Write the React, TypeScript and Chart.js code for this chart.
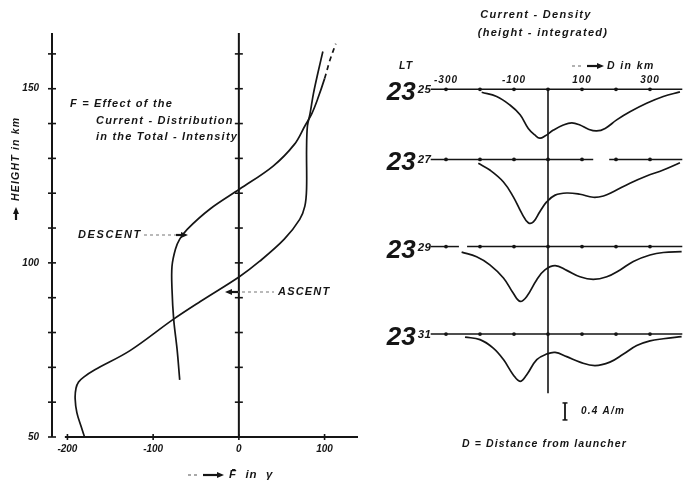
import React, { useEffect, useRef } from "react";
import { Chart, registerables } from "chart.js";

Chart.register(...registerables);

const W = 689;
const H = 484;
const INK = "#151515";
const FAMILY = '"Liberation Sans", "DejaVu Sans", Arial, sans-serif';

// ---------- Left chart: effect F (gamma) vs height (km) ----------
const F_MIN = -218;
const F_MAX = 139;
const H_MIN = 50;
const H_MAX = 166;
const F_TICKS = [-200, -100, 0, 100];
const H_LABEL_TICKS = [50, 100, 150];
const H_MINOR_TICKS = [50, 60, 70, 80, 90, 100, 110, 120, 130, 140, 150, 160];

const ASCENT_F = [-180, -184, -189, -191, -190, -187, -181, -168, -127, -77, -45, 1, 24, 53, 71, 77, 79, 79, 80, 83, 87, 92, 98];
const ASCENT_H = [50, 53, 57, 61, 64, 65.8, 67.2, 69.3, 74.8, 83.7, 88.9, 96.1, 100.4, 106.8, 112.5, 116.3, 121.2, 132.7, 139.3, 142.8, 148.6, 154.3, 160.7];

const DESCENT_F = [-69, -72, -76, -78, -78, -74, -69, -60, -34, 1, 40, 65, 77, 85, 92, 100, 106, 113];
const DESCENT_H = [66.4, 75, 83.7, 92.4, 99, 103.9, 106.8, 109.7, 115.4, 121.2, 127.8, 134.1, 139.3, 142.8, 147.1, 152.9, 158, 162.9];
const DESCENT_DASH_FROM = 15;

// ---------- Right chart: height-integrated current density ----------
const D_MIN = -345;
const D_MAX = 395;
const J_MIN = -8;
const J_MAX = 0.5;
const D_TICKS = [-300, -200, -100, 0, 100, 200, 300];
const D_LABEL_TICKS = [-300, -100, 100, 300];
const PANEL_HOUR = "23";
const PANEL_MINUTES = ["25", "27", "29", "31"];
const PANEL_OFFSETS = [0, -1.65, -3.7, -5.76];
const BASELINE_GAPS = [[], [[133, 180]], [[-262, -238]], []];
const ZERO_LINE_END = -7.15;
const SCALE_BAR_D = 50;
const SCALE_BAR_TOP = -7.38;
const SCALE_BAR_LEN = 0.4;

const J25_D = [-195, -151, -112, -82, -58, -38, -24, -9, 16, 45, 70, 94, 119, 143, 168, 202, 241, 290, 339, 388];
const J25_V = [-0.07, -0.17, -0.37, -0.6, -0.92, -1.08, -1.15, -1.1, -0.96, -0.84, -0.79, -0.84, -0.94, -0.98, -0.92, -0.72, -0.53, -0.33, -0.17, -0.06];

const J27_D = [-205, -171, -131, -102, -77, -58, -43, -24, -4, 21, 55, 94, 133, 163, 192, 241, 290, 339, 388];
const J27_V = [-0.09, -0.25, -0.53, -0.88, -1.27, -1.49, -1.47, -1.23, -1.0, -0.84, -0.79, -0.82, -0.89, -0.86, -0.76, -0.56, -0.39, -0.25, -0.08];

const J29_D = [-254, -210, -171, -131, -102, -82, -63, -33, -9, 21, 55, 94, 133, 173, 212, 251, 300, 339, 393];
const J29_V = [-0.13, -0.24, -0.43, -0.74, -1.1, -1.29, -1.18, -0.78, -0.55, -0.45, -0.56, -0.71, -0.77, -0.71, -0.55, -0.35, -0.2, -0.14, -0.12];

const J31_D = [-244, -200, -161, -131, -102, -82, -63, -33, -4, 21, 55, 94, 138, 182, 222, 261, 300, 339, 393];
const J31_V = [-0.07, -0.13, -0.33, -0.6, -0.96, -1.11, -0.96, -0.6, -0.47, -0.43, -0.53, -0.66, -0.74, -0.66, -0.47, -0.27, -0.16, -0.11, -0.06];

const PANELS_D = [J25_D, J27_D, J29_D, J31_D];
const PANELS_V = [J25_V, J27_V, J29_V, J31_V];

// ---------- helpers ----------
const font = (size: number, weight = "bold") => `italic ${weight} ${size}px ${FAMILY}`;

function txt(ctx: any, s: string, x: number, y: number, size = 11, align = "left", spacing = 1.2, base = "middle") {
  ctx.font = font(size);
  ctx.letterSpacing = spacing + "px";
  ctx.textAlign = align;
  ctx.textBaseline = base;
  ctx.fillStyle = INK;
  ctx.fillText(s, x, y);
  ctx.letterSpacing = "0px";
}

function seg(ctx: any, x1: number, y1: number, x2: number, y2: number, w = 1.5, dash: number[] = []) {
  ctx.lineWidth = w;
  ctx.setLineDash(dash);
  ctx.beginPath();
  ctx.moveTo(x1, y1);
  ctx.lineTo(x2, y2);
  ctx.stroke();
  ctx.setLineDash([]);
}

// horizontal arrow; tip at xTip, pointing in direction dir (+1 right, -1 left)
function arrow(ctx: any, xTail: number, xTip: number, y: number, dir: number) {
  seg(ctx, xTail, y, xTip - dir * 5, y, 2.2);
  ctx.beginPath();
  ctx.moveTo(xTip, y);
  ctx.lineTo(xTip - dir * 7, y - 3);
  ctx.lineTo(xTip - dir * 7, y + 3);
  ctx.closePath();
  ctx.fill();
}

const leftDecor = {
  id: "leftDecor",
  beforeDatasetsDraw(chart: any) {
    const { ctx, chartArea: a, scales } = chart;
    const x = scales.x;
    const y = scales.y;
    ctx.save();
    ctx.strokeStyle = INK;
    ctx.fillStyle = INK;
    const yBottom = y.getPixelForValue(H_MIN);
    const yTop = y.getPixelForValue(H_MAX);
    // left axis
    seg(ctx, a.left, yBottom, a.left, yTop, 2);
    // bottom axis
    seg(ctx, x.getPixelForValue(-203), yBottom, a.right, yBottom, 2);
    // zero line
    const x0 = x.getPixelForValue(0);
    seg(ctx, x0, yBottom, x0, yTop, 2);
    H_MINOR_TICKS.forEach((h) => {
      const py = y.getPixelForValue(h);
      seg(ctx, a.left - 4, py, a.left + 4, py, 1.6);
      seg(ctx, x0 - 4, py, x0 + 4, py, 1.6);
    });
    F_TICKS.forEach((f) => {
      const px = x.getPixelForValue(f);
      seg(ctx, px, yBottom - 3, px, yBottom + 3, 1.6);
    });
    ctx.restore();
  },
  afterDraw(chart: any) {
    const { ctx } = chart;
    ctx.save();
    ctx.strokeStyle = INK;
    ctx.fillStyle = INK;
    txt(ctx, "F = Effect of the", 70, 104, 11);
    txt(ctx, "Current - Distribution", 96, 121, 11);
    txt(ctx, "in the Total - Intensity", 96, 137, 11);
    // DESCENT label + arrow
    txt(ctx, "DESCENT", 78, 235, 11, "left", 1.6);
    ctx.strokeStyle = "#777";
    seg(ctx, 144, 235, 176, 235, 1, [3, 3]);
    ctx.strokeStyle = INK;
    arrow(ctx, 176, 188, 235, 1);
    // ASCENT label + arrow
    txt(ctx, "ASCENT", 278, 292, 11, "left", 1.2);
    ctx.strokeStyle = "#777";
    seg(ctx, 236, 292, 274, 292, 1, [3, 3]);
    ctx.strokeStyle = INK;
    arrow(ctx, 238, 225, 292, -1);
    // y title (rotated)
    ctx.save();
    ctx.translate(16, 220);
    ctx.rotate(-Math.PI / 2);
    arrow(ctx, 0, 13, 0, 1);
    txt(ctx, "HEIGHT in km", 19, 0, 10.5, "left", 1.2);
    ctx.restore();
    // x title
    ctx.strokeStyle = "#555";
    seg(ctx, 188, 475, 200, 475, 1, [3, 3]);
    ctx.strokeStyle = INK;
    arrow(ctx, 203, 224, 475, 1);
    txt(ctx, "F\u0304  in  \u03b3", 229, 475, 11.5, "left", 1);
    ctx.restore();
  },
};

const rightDecor = {
  id: "rightDecor",
  beforeDatasetsDraw(chart: any) {
    const { ctx, chartArea: a, scales } = chart;
    const x = scales.x;
    const y = scales.y;
    ctx.save();
    ctx.strokeStyle = INK;
    ctx.fillStyle = INK;
    PANEL_OFFSETS.forEach((off, i) => {
      const py = y.getPixelForValue(off);
      const gaps = BASELINE_GAPS[i] as number[][];
      let start = a.left;
      gaps.forEach((g) => {
        seg(ctx, start, py, x.getPixelForValue(g[0]), py, 1.5);
        start = x.getPixelForValue(g[1]);
      });
      seg(ctx, start, py, a.right, py, 1.5);
      D_TICKS.forEach((d) => {
        ctx.beginPath();
        ctx.arc(x.getPixelForValue(d), py, 1.9, 0, Math.PI * 2);
        ctx.fill();
      });
      const lx = a.left - 13;
      txt(ctx, PANEL_HOUR, lx - 2, py + 11, 26, "right", 0, "alphabetic");
      txt(ctx, PANEL_MINUTES[i], lx, py + 4, 11.5, "left", 0.3, "alphabetic");
    });
    const x0 = x.getPixelForValue(0);
    seg(ctx, x0, y.getPixelForValue(PANEL_OFFSETS[0]), x0, y.getPixelForValue(ZERO_LINE_END), 1.6);
    // tick labels on the first baseline
    const yTop = y.getPixelForValue(PANEL_OFFSETS[0]);
    D_LABEL_TICKS.forEach((d) => {
      txt(ctx, String(d), x.getPixelForValue(d), yTop - 9, 10, "center", 1);
    });
    // scale bar
    const sx = x.getPixelForValue(SCALE_BAR_D);
    const s1 = y.getPixelForValue(SCALE_BAR_TOP);
    const s2 = y.getPixelForValue(SCALE_BAR_TOP - SCALE_BAR_LEN);
    seg(ctx, sx, s1, sx, s2, 1.8);
    seg(ctx, sx - 2.5, s1, sx + 2.5, s1, 1.5);
    seg(ctx, sx - 2.5, s2, sx + 2.5, s2, 1.5);
    txt(ctx, "0.4 A/m", sx + 16, (s1 + s2) / 2, 10, "left", 1.2);
    ctx.restore();
  },
  afterDraw(chart: any) {
    const { ctx } = chart;
    ctx.save();
    ctx.strokeStyle = INK;
    ctx.fillStyle = INK;
    txt(ctx, "Current - Density", 536, 15, 11, "center", 1.3);
    txt(ctx, "(height - integrated)", 543, 33, 11, "center", 1.3);
    txt(ctx, "LT", 399, 66, 10.5, "left", 1);
    ctx.strokeStyle = "#666";
    seg(ctx, 572, 66, 584, 66, 1, [3, 3]);
    ctx.strokeStyle = INK;
    arrow(ctx, 587, 604, 66, 1);
    txt(ctx, "D in km", 607, 66, 10.5, "left", 1.4);
    txt(ctx, "D = Distance from launcher", 462, 444, 10.5, "left", 1.1);
    ctx.restore();
  },
};

const tickFont = { family: FAMILY, size: 10, style: "italic" as const, weight: "bold" as const };

export default function App() {
  const leftRef = useRef<HTMLCanvasElement>(null);
  const rightRef = useRef<HTMLCanvasElement>(null);

  useEffect(() => {
    const left = new Chart(leftRef.current as HTMLCanvasElement, {
      type: "scatter",
      data: {
        datasets: [
          {
            label: "ASCENT",
            data: ASCENT_F.map((f, i) => ({ x: f, y: ASCENT_H[i] })),
            showLine: true,
            borderColor: INK,
            borderWidth: 1.7,
            pointRadius: 0,
            tension: 0.35,
          },
          {
            label: "DESCENT",
            data: DESCENT_F.map((f, i) => ({ x: f, y: DESCENT_H[i] })),
            showLine: true,
            borderColor: INK,
            borderWidth: 1.7,
            pointRadius: 0,
            tension: 0.35,
            segment: {
              borderDash: (c: any) => (c.p0DataIndex >= DESCENT_DASH_FROM ? [5, 4] : undefined),
            },
          },
        ],
      },
      options: {
        responsive: false,
        animation: false,
        devicePixelRatio: 1,
        layout: { padding: { left: 0, top: 33, right: W - 358, bottom: 0 } },
        plugins: { legend: { display: false }, tooltip: { enabled: false } },
        scales: {
          x: {
            type: "linear",
            min: F_MIN,
            max: F_MAX,
            grid: { display: false, drawTicks: false },
            border: { display: false },
            afterBuildTicks: (s: any) => {
              s.ticks = F_TICKS.map((v) => ({ value: v }));
            },
            afterFit: (s: any) => {
              s.height = 47;
            },
            ticks: { font: tickFont, color: INK, padding: 6, autoSkip: false, maxRotation: 0, callback: (v: any) => String(v) },
          },
          y: {
            type: "linear",
            min: H_MIN,
            max: H_MAX,
            grid: { display: false, drawTicks: false },
            border: { display: false },
            afterBuildTicks: (s: any) => {
              s.ticks = H_LABEL_TICKS.map((v) => ({ value: v }));
            },
            afterFit: (s: any) => {
              s.width = 52;
            },
            ticks: { font: tickFont, color: INK, padding: 13, autoSkip: false, callback: (v: any) => String(v) },
          },
        },
      },
      plugins: [leftDecor],
    } as any);

    const right = new Chart(rightRef.current as HTMLCanvasElement, {
      type: "scatter",
      data: {
        datasets: PANELS_D.map((ds, p) => ({
          label: PANEL_HOUR + ":" + PANEL_MINUTES[p],
          data: ds.map((d, i) => ({ x: d, y: PANELS_V[p][i] + PANEL_OFFSETS[p] })),
          showLine: true,
          borderColor: INK,
          borderWidth: 1.7,
          pointRadius: 0,
          tension: 0.4,
        })),
      },
      options: {
        responsive: false,
        animation: false,
        devicePixelRatio: 1,
        layout: { padding: { left: 430.7, right: 6.7, top: 68.05, bottom: 54.7 } },
        plugins: { legend: { display: false }, tooltip: { enabled: false } },
        scales: {
          x: { type: "linear", display: false, min: D_MIN, max: D_MAX },
          y: { type: "linear", display: false, min: J_MIN, max: J_MAX },
        },
      },
      plugins: [rightDecor],
    } as any);

    return () => {
      left.destroy();
      right.destroy();
    };
  }, []);

  return (
    <div style={{ position: "absolute", left: 0, top: 0, width: W, height: H, background: "#fff" }}>
      <canvas ref={leftRef} width={W} height={H} style={{ position: "absolute", left: 0, top: 0 }} />
      <canvas ref={rightRef} width={W} height={H} style={{ position: "absolute", left: 0, top: 0 }} />
    </div>
  );
}
